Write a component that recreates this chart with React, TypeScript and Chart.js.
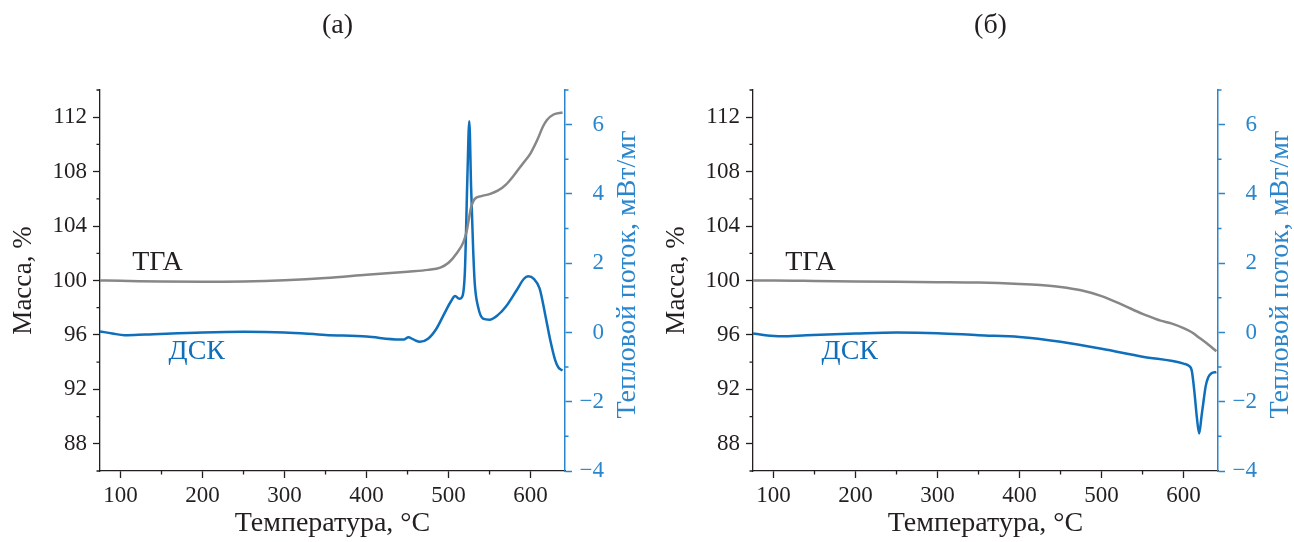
import React, { useEffect, useRef } from 'react';
import { Chart, registerables } from 'chart.js';
Chart.register(...registerables);

const FONT = "'Liberation Serif', 'Times New Roman', serif";
const TEXT = '#231f20';
const GRAY = '#878787';
const BLUE_LINE = '#0f6fba';
const BLUE_AXIS = '#2a86cc';

// axis ticks
const xTicks = [100, 200, 300, 400, 500, 600];
const xMinor = [150, 250, 350, 450, 550];
const massTicks = [88, 92, 96, 100, 104, 108, 112];
const massMinor = [86, 90, 94, 98, 102, 106, 110, 114];
const heatTicks = [-4, -2, 0, 2, 4, 6];
const heatMinor = [-3, -1, 1, 3, 5, 7];

// panel (а)
const tgaTempA = [75, 100, 150, 200, 250, 300, 350, 400, 450, 475, 490, 500, 510, 518, 522, 525, 528, 532, 540, 550, 560, 570, 580, 590, 600, 608, 615, 620, 628, 639];
const tgaMassA = [100.0, 99.98, 99.92, 99.9, 99.93, 100.02, 100.18, 100.42, 100.65, 100.78, 100.95, 101.3, 102.0, 102.8, 103.6, 104.6, 105.5, 106.0, 106.2, 106.35, 106.6, 107.05, 107.75, 108.55, 109.35, 110.3, 111.3, 111.8, 112.2, 112.35];
const dscTempA = [75, 90, 105, 130, 200, 250, 300, 350, 400, 440, 446, 451, 457, 465, 475, 485, 495, 503, 508, 513, 517, 520, 523, 525.3, 527.5, 530, 532, 536, 542, 550, 560, 570, 583, 592, 597, 604, 611, 618, 624, 630, 634, 639];
const dscHeatA = [0.03, -0.03, -0.08, -0.06, 0.0, 0.02, 0.0, -0.07, -0.12, -0.2, -0.2, -0.14, -0.2, -0.27, -0.18, 0.1, 0.55, 0.9, 1.05, 0.97, 1.05, 1.8, 4.5, 6.1, 4.2, 2.4, 1.4, 0.74, 0.4, 0.37, 0.5, 0.75, 1.22, 1.55, 1.62, 1.55, 1.27, 0.5, -0.22, -0.8, -1.01, -1.1];

// panel (б)
const tgaTempB = [75, 100, 150, 200, 250, 300, 350, 400, 425, 450, 475, 500, 525, 550, 565, 572, 585, 600, 610, 620, 630, 640];
const tgaMassB = [100.0, 100.0, 99.97, 99.93, 99.9, 99.88, 99.85, 99.75, 99.67, 99.53, 99.28, 98.85, 98.22, 97.55, 97.2, 97.05, 96.85, 96.5, 96.2, 95.75, 95.3, 94.8];
const dscTempB = [75, 90, 110, 140, 200, 250, 300, 350, 400, 450, 500, 550, 600, 607, 610, 612, 614, 616, 619, 622, 624, 627, 630, 634, 640];
const dscHeatB = [-0.03, -0.08, -0.11, -0.08, -0.03, 0.0, -0.02, -0.08, -0.13, -0.27, -0.47, -0.7, -0.9, -0.97, -1.1, -1.45, -1.9, -2.4, -2.92, -2.4, -2.05, -1.55, -1.3, -1.18, -1.14];

// label anchor points (data coords: temperature, mass)
const tgaLabelAt = [145, 101.3];
const dscLabelAt = [193, 94.8];

const pts = (xs: number[], ys: number[]) => xs.map((x, i) => ({ x, y: ys[i] }));

const fmtHeat = (v: number) => (v < 0 ? '\u2212' + Math.abs(v) : String(v));

const decorPlugin = {
  id: 'decor',
  afterDraw(chart: any) {
    const o = chart.options.plugins.decor;
    if (!o) return;
    const { ctx, chartArea: ca, scales } = chart;
    const x = scales.x, y = scales.y, y2 = scales.y2;
    ctx.save();
    // minor ticks
    ctx.lineWidth = 1.3;
    ctx.strokeStyle = TEXT;
    ctx.beginPath();
    for (const v of xMinor) {
      const px = x.getPixelForValue(v);
      ctx.moveTo(px, ca.bottom);
      ctx.lineTo(px, ca.bottom + 3.5);
    }
    for (const v of massMinor) {
      const py = y.getPixelForValue(v);
      ctx.moveTo(ca.left, py);
      ctx.lineTo(ca.left - 3.5, py);
    }
    ctx.stroke();
    ctx.strokeStyle = BLUE_AXIS;
    ctx.lineWidth = 1.5;
    ctx.beginPath();
    for (const v of heatMinor) {
      const py = y2.getPixelForValue(v);
      ctx.moveTo(ca.right, py);
      ctx.lineTo(ca.right + 3.5, py);
    }
    ctx.stroke();
    // right tick labels (right-aligned)
    ctx.fillStyle = BLUE_AXIS;
    ctx.font = `23px ${FONT}`;
    ctx.textAlign = 'right';
    ctx.textBaseline = 'middle';
    for (const v of heatTicks) {
      ctx.fillText(fmtHeat(v), ca.right + 39, y2.getPixelForValue(v));
    }
    // panel label
    ctx.fillStyle = TEXT;
    ctx.textAlign = 'center';
    ctx.font = `28px ${FONT}`;
    ctx.fillText(o.label, (ca.left + ca.right) / 2 + 5, 26);
    // curve labels
    ctx.font = `28px ${FONT}`;
    ctx.fillText('ТГА', x.getPixelForValue(tgaLabelAt[0]), y.getPixelForValue(tgaLabelAt[1]));
    ctx.fillStyle = BLUE_LINE;
    ctx.fillText('ДСК', x.getPixelForValue(dscLabelAt[0]), y.getPixelForValue(dscLabelAt[1]));
    // right axis title (reads bottom to top)
    ctx.save();
    ctx.translate(ca.right + 63, (ca.top + ca.bottom) / 2 - 6);
    ctx.rotate(-Math.PI / 2);
    ctx.fillStyle = BLUE_AXIS;
    ctx.font = `28px ${FONT}`;
    ctx.textAlign = 'center';
    ctx.textBaseline = 'middle';
    ctx.fillText('Тепловой поток, мВт/мг', 0, 0);
    ctx.restore();
    ctx.restore();
  },
};

type PanelProps = {
  left: number;
  width: number;
  rightWidth: number;
  label: string;
  tgaT: number[];
  tgaM: number[];
  dscT: number[];
  dscH: number[];
};

function Panel({ left, width, rightWidth, label, tgaT, tgaM, dscT, dscH }: PanelProps) {
  const ref = useRef<HTMLCanvasElement>(null);
  useEffect(() => {
    const tickFont = { family: FONT, size: 23 };
    const chart = new Chart(ref.current as HTMLCanvasElement, {
      type: 'line',
      data: {
        datasets: [
          {
            label: 'ТГА',
            data: pts(tgaT, tgaM),
            yAxisID: 'y',
            borderColor: GRAY,
            borderWidth: 2.5,
            pointRadius: 0,
            cubicInterpolationMode: 'monotone',
            fill: false,
          },
          {
            label: 'ДСК',
            data: pts(dscT, dscH),
            yAxisID: 'y2',
            borderColor: BLUE_LINE,
            borderWidth: 2.5,
            pointRadius: 0,
            cubicInterpolationMode: 'monotone',
            fill: false,
          },
        ],
      },
      options: {
        animation: false,
        responsive: true,
        maintainAspectRatio: false,
        layout: { padding: { top: 90, left: 0, right: 0, bottom: 0 } },
        plugins: {
          legend: { display: false },
          tooltip: { enabled: false },
          decor: { label },
        } as any,
        scales: {
          x: {
            type: 'linear',
            position: 'bottom',
            min: 75,
            max: 642,
            afterBuildTicks: (s: any) => {
              s.ticks = xTicks.map((v) => ({ value: v }));
            },
            afterFit: (s: any) => {
              s.height = 71;
            },
            ticks: { font: tickFont, color: TEXT, padding: 4, maxRotation: 0, autoSkip: false },
            grid: { drawOnChartArea: false, tickLength: 7, tickColor: TEXT, tickWidth: 1.3 },
            border: { color: TEXT, width: 1.3 },
            title: {
              display: true,
              text: 'Температура, °C',
              font: { family: FONT, size: 28 },
              color: TEXT,
              padding: { top: 0, bottom: 2 },
            },
          },
          y: {
            type: 'linear',
            position: 'left',
            min: 86,
            max: 114,
            afterBuildTicks: (s: any) => {
              s.ticks = massTicks.map((v) => ({ value: v }));
            },
            afterFit: (s: any) => {
              s.width = 100;
            },
            ticks: { font: tickFont, color: TEXT, padding: 6 },
            grid: { drawOnChartArea: false, tickLength: 7, tickColor: TEXT, tickWidth: 1.3 },
            border: { color: TEXT, width: 1.3 },
            title: {
              display: true,
              text: 'Масса, %',
              font: { family: FONT, size: 27 },
              color: TEXT,
              padding: { top: 8, bottom: 0 },
            },
          },
          y2: {
            type: 'linear',
            position: 'right',
            min: -4,
            max: 7,
            afterBuildTicks: (s: any) => {
              s.ticks = heatTicks.map((v) => ({ value: v }));
            },
            afterFit: (s: any) => {
              s.width = rightWidth;
            },
            ticks: { display: false },
            grid: { drawOnChartArea: false, tickLength: 7, tickColor: BLUE_AXIS, tickWidth: 1.5 },
            border: { color: BLUE_AXIS, width: 1.5 },
          },
        },
      } as any,
      plugins: [decorPlugin as any],
    });
    return () => chart.destroy();
  }, []);
  return (
    <div style={{ position: 'absolute', left, top: 0, width, height: 542 }}>
      <canvas ref={ref} />
    </div>
  );
}

export default function App() {
  return (
    <div style={{ position: 'absolute', left: 0, top: 0, width: 1294, height: 542, background: '#fff', overflow: 'hidden' }}>
      <Panel left={0} width={650} rightWidth={85} label="(а)" tgaT={tgaTempA} tgaM={tgaMassA} dscT={dscTempA} dscH={dscHeatA} />
      <Panel left={653} width={641} rightWidth={76} label="(б)" tgaT={tgaTempB} tgaM={tgaMassB} dscT={dscTempB} dscH={dscHeatB} />
    </div>
  );
}
